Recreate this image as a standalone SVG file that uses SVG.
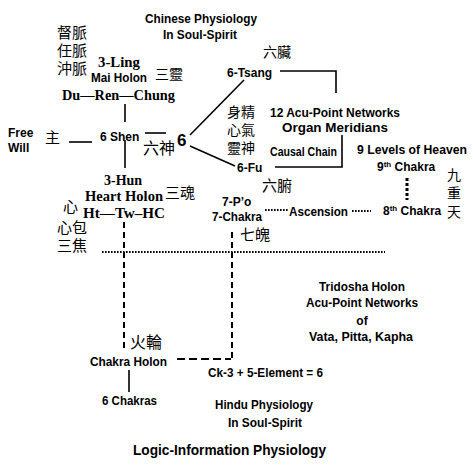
<svg xmlns="http://www.w3.org/2000/svg" width="473" height="473" viewBox="0 0 473 473">
<style>
.s{font-family:"Liberation Sans",Arial,sans-serif;font-weight:bold;font-size:12px;fill:#000}
.r{font-family:"Liberation Serif","Times New Roman",serif;font-weight:bold;font-size:14px;fill:#000}
.c{font-family:"Noto Sans CJK TC","Noto Sans CJK SC",sans-serif;font-size:15px;fill:#000}
.m{text-anchor:middle}
.ln{stroke:#000;stroke-width:1.6;fill:none}
.da{stroke:#000;stroke-width:2;fill:none;stroke-dasharray:6 4}
.dh{stroke:#000;stroke-width:2;fill:none;stroke-dasharray:8 4}
.dt{stroke:#000;stroke-width:2;fill:none;stroke-dasharray:1.6 1.4}
.dv{stroke:#000;stroke-width:3;fill:none;stroke-dasharray:3 2}
</style>
<rect width="473" height="473" fill="#fff"/>
<g id="connectors">
<line class="ln" x1="125" y1="104" x2="125" y2="122"/>
<line class="ln" x1="69" y1="142" x2="92" y2="142"/>
<line class="ln" x1="145" y1="133" x2="166" y2="133"/>
<line class="ln" x1="190" y1="135" x2="244" y2="80"/>
<line class="ln" x1="190" y1="146" x2="235" y2="166"/>
<polyline class="ln" points="280,71 336,71 336,93"/>
<polyline class="ln" points="342,135 342,167 275,167"/>
<line class="ln" x1="125" y1="140" x2="125" y2="168"/>
<line class="da" x1="124" y1="222" x2="124" y2="350"/>
<line class="da" x1="232" y1="232" x2="232" y2="360"/>
<line class="dh" x1="177" y1="359" x2="231" y2="359"/>
<line class="dt" x1="102" y1="252" x2="385" y2="252"/>
<line class="dv" x1="407" y1="178" x2="407" y2="200"/>
<line class="dt" x1="265" y1="210" x2="288" y2="210"/>
<line class="dt" x1="352" y1="211" x2="371" y2="211"/>
<line class="ln" x1="129" y1="370" x2="129" y2="392"/>
</g>
<g id="title-chinese">
<text class="s m" x="201" y="23" textLength="112" lengthAdjust="spacingAndGlyphs">Chinese Physiology</text>
<text class="s m" x="200" y="39" textLength="74" lengthAdjust="spacingAndGlyphs">In Soul-Spirit</text>
</g>
<g id="mai">
<text class="c"><tspan x="57" y="37.5">督脈</tspan><tspan x="57" y="55.5">任脈</tspan><tspan x="57" y="73.5">沖脈</tspan></text>
<text class="r" x="98" y="67" textLength="42" lengthAdjust="spacingAndGlyphs">3-Ling</text>
<text class="s" x="91" y="82" textLength="56" lengthAdjust="spacingAndGlyphs">Mai Holon</text>
<text class="c" x="155" y="78.5" style="font-size:14px">三靈</text>
<text class="r" x="62" y="100" textLength="113" lengthAdjust="spacingAndGlyphs">Du—Ren—Chung</text>
</g>
<g id="free-will">
<text class="s" x="8" y="137">Free</text>
<text class="s" x="8" y="152">Will</text>
<text class="c" x="45" y="142.5">主</text>
</g>
<g id="shen">
<text class="s" x="100" y="141">6 Shen</text>
<text class="c" x="143" y="154" style="font-size:16px">六神</text>
<text class="s" x="177" y="146" style="font-size:17px">6</text>
</g>
<g id="tsang">
<text class="c" x="263" y="57" style="font-size:14px">六臟</text>
<text class="s" x="227" y="77">6-Tsang</text>
</g>
<g id="jing">
<text class="c" style="font-size:14px"><tspan x="227" y="117">身精</tspan><tspan x="227" y="135">心氣</tspan><tspan x="227" y="153">靈神</tspan></text>
</g>
<g id="meridians">
<text class="s m" x="335" y="117" textLength="130" lengthAdjust="spacingAndGlyphs">12 Acu-Point Networks</text>
<text class="s m" x="335" y="132" textLength="106" lengthAdjust="spacingAndGlyphs">Organ Meridians</text>
<text class="s" x="270" y="156" textLength="67" lengthAdjust="spacingAndGlyphs">Causal Chain</text>
</g>
<g id="fu">
<text class="s" x="237" y="172">6-Fu</text>
<text class="c" x="262" y="190.5">六腑</text>
</g>
<g id="heaven">
<text class="s" x="357" y="154" textLength="110" lengthAdjust="spacingAndGlyphs">9 Levels of Heaven</text>
<text class="s" x="377" y="171">9<tspan style="font-size:8px" dy="-4">th</tspan><tspan dy="4"> Chakra</tspan></text>
<text class="s" x="383" y="215">8<tspan style="font-size:8px" dy="-4">th</tspan><tspan dy="4"> Chakra</tspan></text>
<text class="c" style="font-size:14px"><tspan x="447" y="179.5">九</tspan><tspan x="447" y="197.5">重</tspan><tspan x="447" y="216.5">天</tspan></text>
<text class="s" x="289" y="216" textLength="59" lengthAdjust="spacingAndGlyphs">Ascension</text>
</g>
<g id="po">
<text class="s" x="222" y="206">7-P’o</text>
<text class="s" x="212" y="221" textLength="50" lengthAdjust="spacingAndGlyphs">7-Chakra</text>
<text class="c" x="240" y="239.5">七魄</text>
</g>
<g id="hun">
<text class="r" x="104" y="185">3-Hun</text>
<text class="r" x="85" y="201" textLength="78" lengthAdjust="spacingAndGlyphs">Heart Holon</text>
<text class="c" x="165" y="197.5">三魂</text>
<text class="c"><tspan x="63" y="212">心</tspan><tspan x="57" y="232.5">心包</tspan><tspan x="57" y="250.5">三焦</tspan></text>
<text class="r" x="83" y="218" textLength="82" lengthAdjust="spacingAndGlyphs">Ht—Tw–HC</text>
</g>
<g id="tridosha">
<text class="s m" x="362" y="291" textLength="86" lengthAdjust="spacingAndGlyphs">Tridosha Holon</text>
<text class="s m" x="362" y="307" textLength="112" lengthAdjust="spacingAndGlyphs">Acu-Point Networks</text>
<text class="s m" x="362" y="325">of</text>
<text class="s m" x="361" y="341" textLength="104" lengthAdjust="spacingAndGlyphs">Vata, Pitta, Kapha</text>
</g>
<g id="chakra">
<text class="c" x="130" y="348" style="font-size:16px">火輪</text>
<text class="s" x="90" y="366" textLength="77" lengthAdjust="spacingAndGlyphs">Chakra Holon</text>
<text class="s" x="102" y="405" textLength="55" lengthAdjust="spacingAndGlyphs">6 Chakras</text>
<text class="s" x="208" y="377" textLength="115" lengthAdjust="spacingAndGlyphs">Ck-3 + 5-Element = 6</text>
</g>
<g id="title-hindu">
<text class="s m" x="264" y="409" textLength="98" lengthAdjust="spacingAndGlyphs">Hindu Physiology</text>
<text class="s m" x="265" y="427" textLength="74" lengthAdjust="spacingAndGlyphs">In Soul-Spirit</text>
</g>
<g id="title-main">
<text class="s" x="133" y="455" style="font-size:15px" textLength="193" lengthAdjust="spacingAndGlyphs">Logic-Information Physiology</text>
</g>
</svg>
